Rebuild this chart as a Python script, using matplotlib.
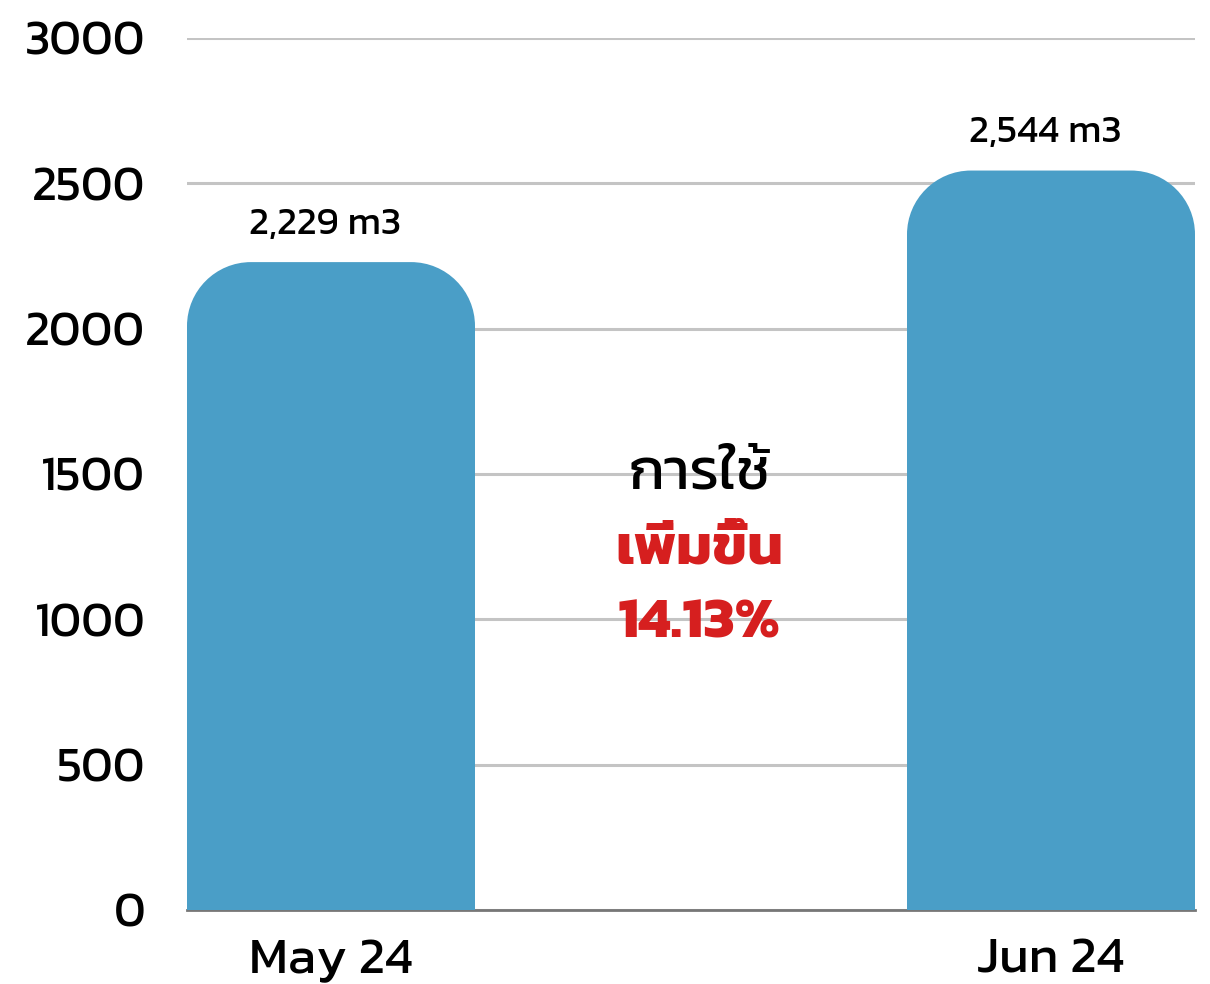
import matplotlib
matplotlib.use("Agg")
import matplotlib.pyplot as plt
from matplotlib import font_manager
from matplotlib.ft2font import FT2Font
from matplotlib.path import Path
from matplotlib.patches import PathPatch

# ---- data ----
categories = ["May 24", "Jun 24"]
values = [2229, 2544]
value_labels = ["2,229 m3", "2,544 m3"]
yticks = [0, 500, 1000, 1500, 2000, 2500, 3000]
center_line1 = "การใช้"
center_line2 = "เพิ่มขึ้น"
center_line3 = "14.13%"

# ---- find a Thai-capable font ----
def find_thai_font():
    preferred = ["Kanit", "Prompt", "Sarabun", "Noto Sans Thai", "Noto Sans Thai UI",
                 "Loma", "Garuda", "Tlwg Typo", "Norasi", "Waree", "DejaVu Sans"]
    found = {}
    for f in font_manager.fontManager.ttflist:
        try:
            cm = FT2Font(f.fname).get_charmap()
        except Exception:
            continue
        if 0x0E01 in cm and 0x0E49 in cm:
            found.setdefault(f.name, f.fname)
    for p in preferred:
        if p in found:
            return p
    if found:
        return sorted(found)[0]
    return None

thai = find_thai_font()
fam = [thai, "DejaVu Sans"] if thai else ["DejaVu Sans"]
plt.rcParams["font.family"] = fam

bar_color = "#4A9EC7"
red = "#D61F1F"

fig = plt.figure(figsize=(12.10, 9.84), dpi=100)
ax = fig.add_axes([187 / 1210, 1 - 910 / 984, (1195 - 187) / 1210, (910 - 38) / 984])

x = list(range(len(categories)))
width = 0.4
ax.set_xlim(-0.2, 1.2)
ax.set_ylim(0, 3000)

bars = ax.bar(x, values, width=width, color=bar_color, zorder=3)

# Replace rectangles with top-rounded shapes
fig.canvas.draw()
ax_w_px = ax.get_window_extent().width
ax_h_px = ax.get_window_extent().height
r_px = 64
rx = r_px * (1.4 / ax_w_px)
ry = r_px * (3000 / ax_h_px)
k = 0.5523
for b in bars:
    x0 = b.get_x()
    x1 = x0 + b.get_width()
    h = b.get_height()
    verts = [
        (x0, 0), (x0, h - ry),
        (x0, h - ry * (1 - k)), (x0 + rx * (1 - k), h), (x0 + rx, h),
        (x1 - rx, h),
        (x1 - rx * (1 - k), h), (x1, h - ry * (1 - k)), (x1, h - ry),
        (x1, 0), (x0, 0),
    ]
    codes = [Path.MOVETO, Path.LINETO,
             Path.CURVE4, Path.CURVE4, Path.CURVE4,
             Path.LINETO,
             Path.CURVE4, Path.CURVE4, Path.CURVE4,
             Path.LINETO, Path.CLOSEPOLY]
    ax.add_patch(PathPatch(Path(verts, codes), facecolor=bar_color, edgecolor="none", zorder=3))
    b.set_visible(False)

# Grid
ax.set_yticks(yticks)
ax.set_yticklabels([str(t) for t in yticks], fontsize=35)
ax.yaxis.grid(True, color="#C4C4C4", linewidth=2.2, zorder=0)
ax.set_axisbelow(True)
ax.tick_params(axis="y", length=0, pad=30)
ax.tick_params(axis="x", length=0, pad=20)
ax.set_xticks(x)
ax.set_xticklabels(categories, fontsize=37)
for s in ["top", "right", "left"]:
    ax.spines[s].set_visible(False)
ax.spines["bottom"].set_color("#777777")
ax.spines["bottom"].set_linewidth(2)
ax.spines["bottom"].set_zorder(2)

for xi, v, lab in zip(x, values, value_labels):
    ax.annotate(lab, (xi, v), xytext=(-4, 27), textcoords="offset points",
                ha="center", va="center", fontsize=28)

ax.text(0.508, 0.498, center_line1, transform=ax.transAxes, ha="center", va="center",
        fontsize=42, color="black")
ax.text(0.508, 0.413, center_line2, transform=ax.transAxes, ha="center", va="center",
        fontsize=41, color=red, fontweight="bold")
ax.text(0.508, 0.328, center_line3, transform=ax.transAxes, ha="center", va="center",
        fontsize=42, color=red, fontweight="bold")

fig.savefig("out.png", dpi=100)
